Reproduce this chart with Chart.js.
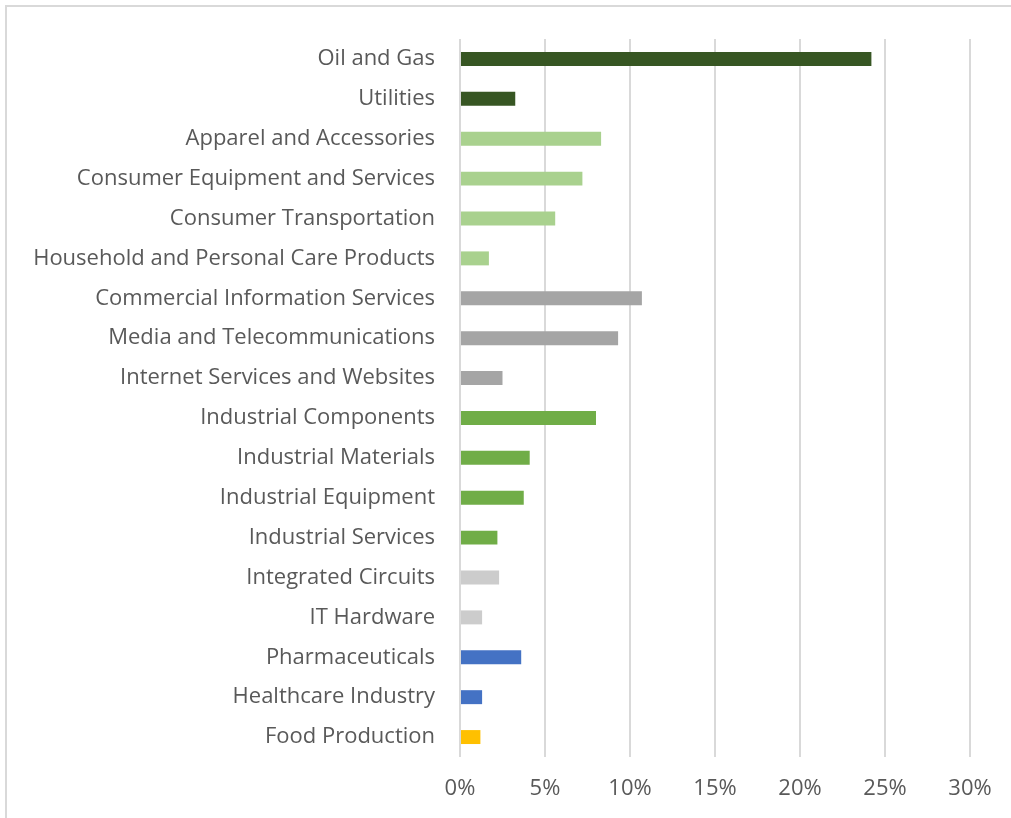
<!DOCTYPE html>
<html>
<head>
<meta charset="utf-8">
<script src="https://cdn.jsdelivr.net/npm/chart.js@4"></script>
<style>
  html, body { margin: 0; padding: 0; background: #fff; }
  #wrap { position: absolute; left: 0; top: 0; width: 1011px; height: 818px; }
  #frame { position: absolute; left: 5px; top: 5px; width: 1006px; height: 813px; border-left: 2px solid #d9d9d9; border-top: 2px solid #d9d9d9; box-sizing: border-box; pointer-events: none; }
</style>
</head>
<body>
<div id="wrap">
  <canvas id="sectorChart" width="1011" height="818"></canvas>
  <div id="frame"></div>
</div>
<script>
const categories = [
    'Oil and Gas', 'Utilities', 'Apparel and Accessories', 'Consumer Equipment and Services',
    'Consumer Transportation', 'Household and Personal Care Products', 'Commercial Information Services',
    'Media and Telecommunications', 'Internet Services and Websites', 'Industrial Components',
    'Industrial Materials', 'Industrial Equipment', 'Industrial Services', 'Integrated Circuits',
    'IT Hardware', 'Pharmaceuticals', 'Healthcare Industry', 'Food Production'
];
const shares = [24.2, 3.25, 8.3, 7.2, 5.6, 1.7, 10.7, 9.3, 2.5, 8.0, 4.1, 3.75, 2.2, 2.3, 1.3, 3.6, 1.3, 1.2];
const barColors = [
    '#375623', '#375623',
    '#a9d18e', '#a9d18e', '#a9d18e', '#a9d18e',
    '#a5a5a5', '#a5a5a5', '#a5a5a5',
    '#70ad47', '#70ad47', '#70ad47', '#70ad47',
    '#cccccc', '#cccccc',
    '#4472c4', '#4472c4',
    '#ffc000'
];
const xTicks = [0, 5, 10, 15, 20, 25, 30];

const fontFamily = '"Open Sans", "Noto Sans", sans-serif';

const ctx = document.getElementById('sectorChart').getContext('2d');
new Chart(ctx, {
    type: 'bar',
    data: {
        labels: categories,
        datasets: [{
            data: shares,
            backgroundColor: barColors,
            borderWidth: 0,
            barPercentage: 0.35,
            categoryPercentage: 1
        }]
    },
    options: {
        indexAxis: 'y',
        responsive: false,
        animation: false,
        layout: {
            padding: { top: 39, right: 41, bottom: 0, left: 0 }
        },
        plugins: {
            legend: { display: false },
            tooltip: { enabled: false }
        },
        scales: {
            x: {
                min: 0,
                max: 30,
                afterBuildTicks: (scale) => {
                    scale.ticks = xTicks.map(v => ({ value: v }));
                },
                afterFit: (scale) => { scale.height = 61; },
                grid: {
                    color: '#d9d9d9',
                    lineWidth: 2,
                    drawTicks: false
                },
                border: { display: false },
                ticks: {
                    padding: 19,
                    color: '#595959',
                    font: { family: fontFamily, size: 22 },
                    callback: (v) => v + '%'
                }
            },
            y: {
                afterFit: (scale) => { scale.width = 460; },
                grid: { display: false, drawTicks: false },
                border: { display: false },
                ticks: {
                    padding: 25,
                    color: '#595959',
                    font: { family: fontFamily, size: 22 }
                }
            }
        }
    }
});
</script>
</body>
</html>
